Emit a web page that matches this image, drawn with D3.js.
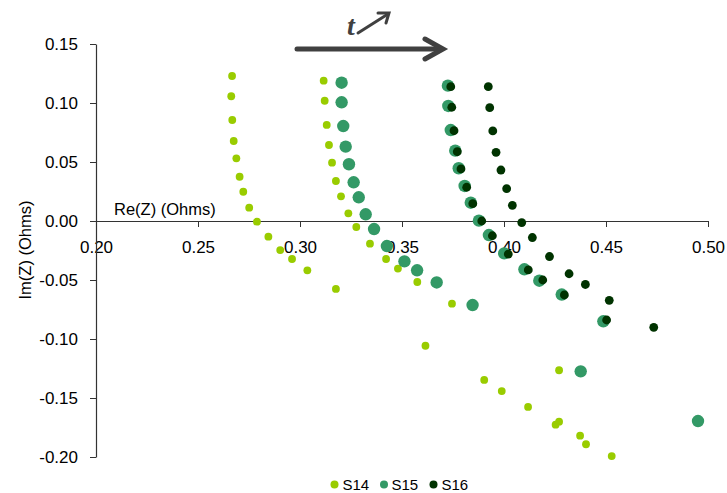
<!DOCTYPE html>
<html>
<head>
<meta charset="utf-8">
<script src="https://cdn.jsdelivr.net/npm/d3@7"></script>
<style>
  html, body { margin: 0; padding: 0; background: #fff; }
  svg { display: block; font-family: "Liberation Sans", Arial, sans-serif; }
</style>
</head>
<body>
<svg id="chart" width="727" height="493"></svg>
<script>
// ---- Data (Re(Z), Im(Z)) in Ohms ----
const seriesNames = ["S14", "S15", "S16"];
const seriesColors = ["#99cc00", "#339966", "#003300"];

const s14Re = [0.2667,0.2663,0.2668,0.2675,0.2688,0.2704,0.2722,0.2751,0.2789,0.2845,0.2903,0.2961,0.3036,0.3176,0.3615,0.3903,0.3989,0.4118,0.4253,0.4373,0.4528,
               0.3116,0.3121,0.3131,0.3142,0.3157,0.3176,0.3201,0.3237,0.3276,0.3343,0.3422,0.3480,0.3575,0.3745,0.4270,0.4270,0.4402];
const s14Im = [0.1229,0.1057,0.0856,0.0678,0.0531,0.0375,0.0248,0.0113,-0.0006,-0.0133,-0.0246,-0.0322,-0.0418,-0.0576,-0.1057,-0.1347,-0.1441,-0.1576,-0.1726,-0.1819,-0.1992,
               0.1189,0.1019,0.0814,0.0644,0.0494,0.0339,0.0209,0.0065,-0.0051,-0.0192,-0.0322,-0.0403,-0.0517,-0.0701,-0.1265,-0.1701,-0.1892];

const s15Re = [0.3204,0.3204,0.3212,0.3224,0.3240,0.3263,0.3288,0.3322,0.3363,0.3426,0.3512,0.3574,0.3670,0.3846,0.4376,0.4951,
               0.3725,0.3727,0.3739,0.3761,0.3778,0.3807,0.3837,0.3877,0.3926,0.4001,0.4100,0.4173,0.4283,0.4487];
const s15Im = [0.1172,0.1006,0.0805,0.0630,0.0481,0.0328,0.0201,0.0057,-0.0068,-0.0212,-0.0342,-0.0418,-0.0521,-0.0712,-0.1274,-0.1695,
               0.1147,0.0975,0.0771,0.0596,0.0447,0.0297,0.0155,0.0003,-0.0119,-0.0274,-0.0409,-0.0506,-0.0623,-0.0850];

const s16Re = [0.3739,0.3744,0.3755,0.3771,0.3789,0.3817,0.3847,0.3891,0.3943,0.4021,0.4119,0.4190,0.4296,0.4503,
               0.3923,0.3930,0.3945,0.3961,0.3985,0.4013,0.4041,0.4087,0.4139,0.4223,0.4319,0.4399,0.4516,0.4734];
const s16Im = [0.1138,0.0964,0.0765,0.0587,0.0441,0.0286,0.0147,0.0000,-0.0125,-0.0280,-0.0415,-0.0500,-0.0627,-0.0839,
               0.1138,0.0960,0.0763,0.0582,0.0432,0.0274,0.0133,-0.0013,-0.0140,-0.0301,-0.0447,-0.0538,-0.0672,-0.0901];

const xTicks = [0.20, 0.25, 0.30, 0.35, 0.40, 0.45, 0.50];
const yTicks = [0.15, 0.10, 0.05, 0.00, -0.05, -0.10, -0.15, -0.20];

const xTitle = "Re(Z) (Ohms)";
const yTitle = "Im(Z) (Ohms)";

// ---- Build ----
const series = [
  { name: seriesNames[0], color: seriesColors[0], r: 3.9, pts: s14Re.map((v, i) => [v, s14Im[i]]) },
  { name: seriesNames[1], color: seriesColors[1], r: 6.2, pts: s15Re.map((v, i) => [v, s15Im[i]]) },
  { name: seriesNames[2], color: seriesColors[2], r: 4.4, pts: s16Re.map((v, i) => [v, s16Im[i]]) }
];

const svg = d3.select("#chart");
const x = d3.scaleLinear().domain([0.20, 0.50]).range([96, 708]);
const y = d3.scaleLinear().domain([-0.20, 0.15]).range([457, 44]);
const fmt = d => (Math.abs(d) < 1e-9 ? 0 : d).toFixed(2);
const axisColor = "#333";

// X axis at y = 0
const gx = svg.append("g")
  .attr("transform", `translate(0,${y(0)})`)
  .call(d3.axisBottom(x).tickValues(xTicks).tickFormat(fmt).tickSize(6).tickSizeOuter(0).tickPadding(14));
gx.select(".domain").attr("stroke", axisColor).attr("stroke-width", 1.2);
gx.selectAll(".tick line").attr("stroke", axisColor);
gx.selectAll(".tick text").attr("font-size", 17).attr("fill", "#000")
  .attr("font-family", "Liberation Sans, Arial, sans-serif");

// Y axis at x = 0.20
const gy = svg.append("g")
  .attr("transform", `translate(${x(0.20)},0)`)
  .call(d3.axisLeft(y).tickValues(yTicks).tickFormat(fmt).tickSize(6).tickSizeOuter(0).tickPadding(12));
gy.select(".domain").attr("stroke", axisColor).attr("stroke-width", 1.2);
gy.selectAll(".tick line").attr("stroke", axisColor);
gy.selectAll(".tick text").attr("font-size", 17).attr("fill", "#000")
  .attr("font-family", "Liberation Sans, Arial, sans-serif");

// Axis titles
svg.append("text")
  .attr("x", 114).attr("y", 215)
  .attr("font-size", 16.5).attr("fill", "#000")
  .text(xTitle);
svg.append("text")
  .attr("transform", "translate(31,250) rotate(-90)")
  .attr("text-anchor", "middle")
  .attr("font-size", 16.5).attr("fill", "#000")
  .text(yTitle);

// Points
series.forEach(s => {
  svg.append("g").selectAll("circle")
    .data(s.pts).join("circle")
    .attr("cx", d => x(d[0]))
    .attr("cy", d => y(d[1]))
    .attr("r", s.r)
    .attr("fill", s.color);
});

// Time arrow annotation
const ann = svg.append("g").attr("fill", "none").attr("stroke", "#404040");
ann.append("line").attr("x1", 297).attr("y1", 49).attr("x2", 441).attr("y2", 49)
  .attr("stroke-width", 5).attr("stroke-linecap", "round");
ann.append("polyline").attr("points", "425,39 443,49 425,59")
  .attr("stroke-width", 5).attr("stroke-linejoin", "miter").attr("stroke-linecap", "round");
svg.append("text")
  .attr("x", 347).attr("y", 35)
  .attr("font-family", "Liberation Serif, Times New Roman, serif")
  .attr("font-style", "italic").attr("font-weight", "bold")
  .attr("font-size", 28).attr("fill", "#404040")
  .text("t");
ann.append("line").attr("x1", 358).attr("y1", 33).attr("x2", 388).attr("y2", 14)
  .attr("stroke-width", 3).attr("stroke-linecap", "round");
ann.append("polyline").attr("points", "378,13 389,13 386,23")
  .attr("stroke-width", 3).attr("stroke-linejoin", "miter").attr("stroke-linecap", "round");

// Legend
const legendItems = [
  { cx: 334.5, tx: 342.5 },
  { cx: 384, tx: 391.5 },
  { cx: 433.5, tx: 441.5 }
];
series.forEach((s, i) => {
  svg.append("circle").attr("cx", legendItems[i].cx).attr("cy", 484.5)
    .attr("r", 4).attr("fill", s.color);
  svg.append("text").attr("x", legendItems[i].tx).attr("y", 490)
    .attr("font-size", 15).attr("fill", "#000").text(s.name);
});
</script>
</body>
</html>
